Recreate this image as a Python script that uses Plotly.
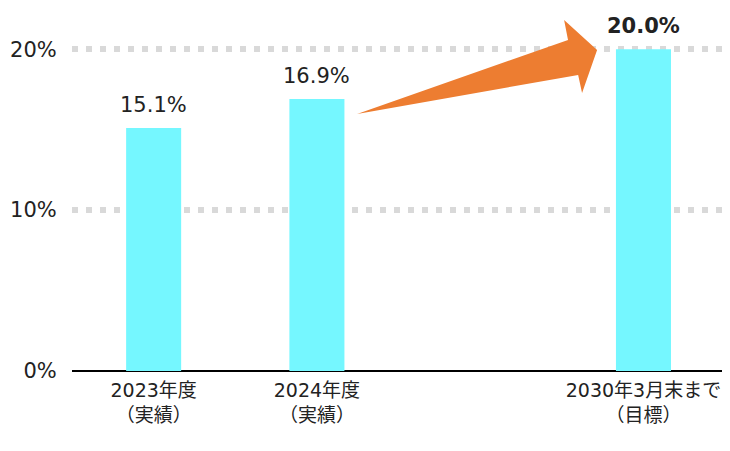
import plotly.graph_objects as go

# bar positions (index 2 is left empty as a spacer)
x_pos = [0, 1, 3]
tick_labels = ["2023年度<br>（実績）", "2024年度<br>（実績）", "2030年3月末まで<br>（目標）"]
values = [15.1, 16.9, 20.0]
value_text = ["15.1%", "16.9%", "<b>20.0%</b>"]

y_ticks = [0, 10, 20]
y_tick_text = ["0%", "10%", "20%"]

FONT = "DejaVu Sans, Noto Sans CJK JP"

fig = go.Figure()

fig.add_trace(go.Bar(
    x=x_pos, y=values,
    marker=dict(color="#75F7FF", line=dict(width=0)),
    width=0.337,
))

# value labels above bars
for xv, yv, t in zip(x_pos, values, value_text):
    fig.add_annotation(x=xv, y=yv, text=t, showarrow=False,
                       yanchor="bottom", yshift=9,
                       font=dict(size=21, color="#222222", family=FONT))

# orange arrow between 2024 and target bar (data coordinates)
arrow = [(1.246, 15.97), (2.538, 20.57), (2.514, 21.81), (2.716, 19.95),
         (2.624, 17.28), (2.60, 18.4)]
path = "M " + " L ".join(f"{x},{y}" for x, y in arrow) + " Z"
fig.add_shape(type="path", path=path, xref="x", yref="y",
              fillcolor="#ED7D31", line=dict(width=0), layer="above")

# page body has an 8px offset, margins compensate for it
fig.update_layout(
    width=730, height=451,
    margin=dict(l=64, r=8, t=9, b=88),
    plot_bgcolor="white", paper_bgcolor="white",
    showlegend=False,
    font=dict(family=FONT, color="#222222"),
)
fig.update_xaxes(
    range=[-0.5, 3.53],
    tickvals=x_pos, ticktext=tick_labels,
    tickfont=dict(size=19),
    showgrid=False, showline=False,
    ticks="outside", ticklen=2, tickcolor="rgba(0,0,0,0)",
    automargin=False,
)
fig.update_yaxes(
    range=[0, 22],
    tickvals=y_ticks, ticktext=y_tick_text,
    tickfont=dict(size=21),
    showgrid=True, gridcolor="#D9D9D9", gridwidth=6, griddash="6px,8px",
    zeroline=True, zerolinecolor="black", zerolinewidth=2,
    ticks="outside", ticklen=10, tickcolor="rgba(0,0,0,0)",
    showline=False, automargin=False,
)

fig.write_html("out.html")
